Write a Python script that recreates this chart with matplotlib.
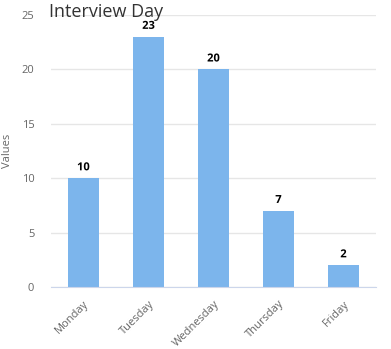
import numpy as np
import matplotlib.pyplot as plt
import matplotlib.patheffects as pe

# Data
days = ['Monday', 'Tuesday', 'Wednesday', 'Thursday', 'Friday']
values = [10, 23, 20, 7, 2]
y_ticks = [0, 5, 10, 15, 20, 25]

plt.rcParams['font.family'] = ['Open Sans', 'DejaVu Sans']

fig = plt.figure(figsize=(3.91, 3.49), dpi=100)
ax = fig.add_axes([51/391, 62/349, 325/391, 272/349])

x = np.arange(len(days))
bars = ax.bar(x, values, width=31/65, color='#7cb5ec', zorder=3)

for xi, v in zip(x, values):
    ax.text(xi, v + 0.45, str(v), ha='center', va='bottom', fontsize=8,
            fontweight='bold', color='black', zorder=4,
            path_effects=[pe.withStroke(linewidth=2, foreground='white')])

ax.set_xlim(-0.5, len(days) - 0.5)
ax.set_ylim(0, 25)
ax.set_yticks(y_ticks)
ax.set_yticklabels([str(t) for t in y_ticks], fontsize=8, color='#666666')
ax.set_xticks(x)
ax.set_xticklabels(days, fontsize=8, color='#666666', rotation=45,
                   ha='right', rotation_mode='anchor')
ax.tick_params(axis='y', length=0, pad=12)
ax.tick_params(axis='x', length=0, pad=8)

ax.grid(axis='y', color='#e6e6e6', linewidth=1, zorder=0)
for s in ['top', 'right', 'left']:
    ax.spines[s].set_visible(False)
ax.spines['bottom'].set_color('#ccd6eb')
ax.spines['bottom'].set_zorder(5)

ax.set_ylabel('Values', fontsize=8, color='#666666', labelpad=6)

fig.text(49/391, 1 - 12/349, 'Interview Day', fontsize=13, color='#333333',
         ha='left', va='center')

fig.savefig('out.png', dpi=100)
